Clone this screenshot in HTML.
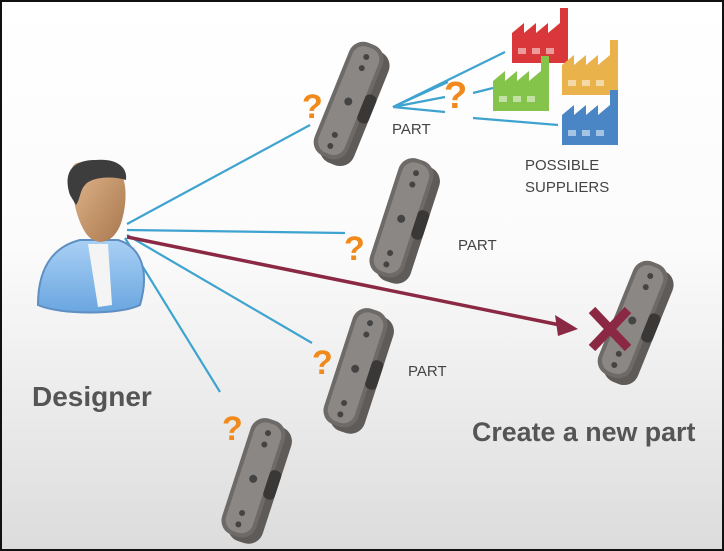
<!DOCTYPE html>
<html><head><style>
html,body{margin:0;padding:0;width:724px;height:551px;overflow:hidden}
</style></head><body>
<svg width="724" height="551" viewBox="0 0 724 551" xmlns="http://www.w3.org/2000/svg" font-family="Liberation Sans, sans-serif">
<defs>
<linearGradient id="bg" x1="0" y1="0" x2="0" y2="1">
<stop offset="0" stop-color="#ffffff"/><stop offset="0.45" stop-color="#fbfbfb"/><stop offset="1" stop-color="#dcdcdc"/>
</linearGradient>
<linearGradient id="shirt" x1="0" y1="0" x2="0" y2="1"><stop offset="0" stop-color="#a9d0f5"/><stop offset="1" stop-color="#6aa6e0"/></linearGradient>
<linearGradient id="face" x1="0" y1="0" x2="1" y2="1"><stop offset="0" stop-color="#e3b98f"/><stop offset="1" stop-color="#a8764c"/></linearGradient>
<g id="part">
<rect x="-14" y="-58" width="36" height="122" rx="15" fill="#5e5b59"/>
<rect x="-22" y="-62" width="36" height="122" rx="15" fill="#6d6a68"/>
<rect x="-18" y="-58" width="28" height="114" rx="12" fill="#8a8785"/>
<circle cx="-4" cy="-48" r="3" fill="#444"/><circle cx="-4" cy="-36" r="3" fill="#444"/>
<circle cx="-4" cy="0" r="4" fill="#444"/><circle cx="-4" cy="36" r="3" fill="#444"/><circle cx="-4" cy="48" r="3" fill="#444"/>
<rect x="10" y="-15" width="12" height="30" rx="5" fill="#3a3837"/>
</g>
<g id="fac">
<path d="M0 45 V15 L12 5 V15 L24 5 V15 L36 5 V15 L48 5 V-10 H56 V45 Z"/>
<rect x="6" y="30" width="8" height="6" fill="#fff" opacity=".5"/><rect x="20" y="30" width="8" height="6" fill="#fff" opacity=".5"/><rect x="34" y="30" width="8" height="6" fill="#fff" opacity=".5"/>
</g>
</defs>
<rect x="0" y="0" width="724" height="551" fill="url(#bg)"/>
<rect x="1" y="1" width="722" height="549" fill="none" stroke="#111" stroke-width="2"/>

<g stroke="#3ea3cf" stroke-width="2.2" fill="none">
<line x1="127" y1="224" x2="310" y2="125"/>
<line x1="127" y1="230" x2="345" y2="233"/>
<line x1="127" y1="235" x2="312" y2="343"/>
<line x1="125" y1="238" x2="220" y2="392"/>
<line x1="393" y1="107" x2="505" y2="52"/>
<line x1="393" y1="107" x2="448" y2="82"/>
<line x1="393" y1="107" x2="445" y2="97"/>
<line x1="393" y1="107" x2="445" y2="112"/>
<line x1="473" y1="93" x2="493" y2="88"/>
<line x1="473" y1="118" x2="558" y2="125"/>
</g>
<line x1="127" y1="237" x2="560" y2="325" stroke="#8b2843" stroke-width="3.5"/>
<path d="M578 329 L555 315 L558 336 Z" fill="#8b2843"/>

<path d="M38 305 C38 260 60 245 80 240 L118 240 C135 245 152 263 140 305 C120 315 60 315 38 305 Z" fill="url(#shirt)" stroke="#5d8fc2" stroke-width="2"/>
<path d="M88 244 L108 244 L112 305 L98 307 Z" fill="#f4f4f4"/>
<path d="M72 175 C70 155 85 165 110 165 C128 168 128 200 122 220 C115 245 95 248 85 232 C75 215 72 195 72 175 Z" fill="url(#face)"/>
<path d="M70 195 C62 170 75 160 95 160 C115 158 128 166 126 180 C110 175 90 178 85 185 C80 190 80 200 76 205 Z" fill="#3d3d3d"/>
<text x="32" y="406" font-size="28" font-weight="bold" fill="#555">Designer</text>

<use href="#part" transform="translate(352,103) rotate(22)"/>
<use href="#part" transform="translate(405,220) rotate(18)"/>
<use href="#part" transform="translate(359,370) rotate(18)"/>
<use href="#part" transform="translate(257,480) rotate(18)"/>
<use href="#part" transform="translate(636,322) rotate(22)"/>

<g font-size="34" font-weight="bold" fill="#f08a1c">
<text x="302" y="118">?</text>
<text x="344" y="260">?</text>
<text x="312" y="374">?</text>
<text x="222" y="440">?</text>
<text x="444" y="108" font-size="38">?</text>
</g>

<g font-size="15" fill="#444">
<text x="392" y="134">PART</text>
<text x="458" y="250">PART</text>
<text x="408" y="376">PART</text>
<text x="525" y="170">POSSIBLE</text>
<text x="525" y="192">SUPPLIERS</text>
</g>
<text x="472" y="441" font-size="26.8" font-weight="bold" fill="#555">Create a new part</text>

<use href="#fac" transform="translate(512,18)" fill="#d9373a"/>
<use href="#fac" transform="translate(562,50)" fill="#e9b24b"/>
<use href="#fac" transform="translate(493,66)" fill="#84c44a"/>
<use href="#fac" transform="translate(562,100)" fill="#4a86c5"/>

<g stroke="#8b2843" stroke-width="9" stroke-linecap="butt">
<line x1="592" y1="310" x2="628" y2="348"/>
<line x1="628" y1="310" x2="592" y2="348"/>
</g>
</svg>
</body></html>
